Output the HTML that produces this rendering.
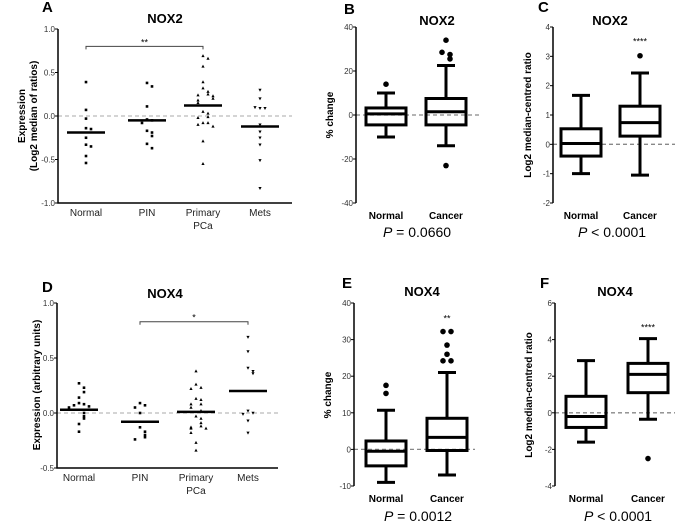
<!DOCTYPE html>
<html><head><meta charset="utf-8"><style>
html,body{margin:0;padding:0;background:#fff}
svg{display:block;font-family:"Liberation Sans",Arial,sans-serif}
</style></head><body>
<svg id="fig" width="675" height="522" viewBox="0 0 675 522" xmlns="http://www.w3.org/2000/svg"></svg>
<script>
// ---- Panel A data (NOX2 scatter)
const aCategories = ["Normal","PIN","Primary","Mets"];
const aNormal = [0.39,0.07,-0.03,-0.14,-0.15,-0.25,-0.33,-0.35,-0.46,-0.54];
const aPIN = [0.38,0.34,0.11,-0.04,-0.05,-0.08,-0.17,-0.19,-0.23,-0.32,-0.37];
const aPrimary = [0.69,0.66,0.57,0.39,0.32,0.28,0.25,0.24,0.23,0.2,0.18,0.15,0.05,0.03,-0.01,-0.02,-0.08,-0.08,-0.1,-0.12,-0.29,-0.55];
const aMets = [0.3,0.2,0.09,0.09,0.1,-0.1,-0.18,-0.25,-0.33,-0.51,-0.83];
const aMedians = [-0.19,-0.05,0.12,-0.12];
const aTicks = [1.0,0.5,0.0,-0.5,-1.0];
const aTickLabels = ["1.0","0.5","0.0","-0.5","-1.0"];
// ---- Panel D data (NOX4 scatter)
const dNormal = [0.27,0.23,0.19,0.14,0.09,0.08,0.07,0.06,0.05,0.03,0.0,-0.03,-0.05,-0.1,-0.17];
const dPIN = [0.09,0.07,0.05,0.0,-0.13,-0.17,-0.2,-0.22,-0.24];
const dPrimary = [0.38,0.26,0.23,0.22,0.13,0.12,0.08,0.08,0.05,0.02,-0.03,-0.05,-0.09,-0.12,-0.13,-0.14,-0.14,-0.18,-0.27,-0.34];
const dMets = [0.69,0.56,0.41,0.38,0.36,0.02,0.0,-0.01,-0.07,-0.18];
const dMedians = [0.03,-0.08,0.01,0.2];
const dTicks = [1.0,0.5,0.0,-0.5];
const dTickLabels = ["1.0","0.5","0.0","-0.5"];
// ---- Box panels: [whiskerLow, Q1, median, Q3, whiskerHigh]
const boxCategories = ["Normal","Cancer"];
const bNormal = [-10,-4.5,0.5,3.2,10];
const bCancer = [-14,-4.5,1.5,7.5,22.5];
const bNormalOutliers = [14];
const bCancerOutliers = [34,28.5,27.5,25.5,-23];
const bTicks = [40,20,0,-20,-40];
const cNormal = [-1,-0.4,0.03,0.53,1.67];
const cCancer = [-1.05,0.28,0.74,1.3,2.43];
const cNormalOutliers = [];
const cCancerOutliers = [3.02];
const cTicks = [4,3,2,1,0,-1,-2];
const eNormal = [-9,-4.5,-0.5,2.3,10.7];
const eCancer = [-7,-0.3,3.3,8.5,21];
const eNormalOutliers = [17.5,15.3];
const eCancerOutliers = [32.2,32.2,28.5,26,24.2,24.2];
const eTicks = [40,30,20,10,0,-10];
const fNormal = [-1.6,-0.8,-0.2,0.9,2.85];
const fCancer = [-0.35,1.1,2.1,2.7,4.05];
const fNormalOutliers = [];
const fCancerOutliers = [-2.5];
const fTicks = [6,4,2,0,-2,-4];

const NS="http://www.w3.org/2000/svg";
const svg=document.getElementById('fig');
function mk(tag,attrs,parent){const e=document.createElementNS(NS,tag);for(const k in attrs)e.setAttribute(k,attrs[k]);(parent||svg).appendChild(e);return e;}
function txt(s,x,y,size,opts,parent){const e=mk('text',Object.assign({x:x,y:y,'font-size':size,fill:'#000'},opts||{}),parent);e.textContent=s;return e;}

function scatterPanel(cfg){
  const g=mk('g',{});
  
  
  const y=v=>cfg.y0+(cfg.vmax-v)/(cfg.vmax-cfg.vmin)*(cfg.y1-cfg.y0);
  const t=txt(cfg.letter,cfg.lx,cfg.ly,15,{'font-weight':'bold'},g);
  
  
  const ti=txt(cfg.title,cfg.tx,cfg.ty,13,{'font-weight':'bold','text-anchor':'middle'},g);
  
  
  mk('line',{x1:cfg.ax,y1:y(0),x2:cfg.xend,y2:y(0),stroke:'#bbb','stroke-width':1.3,'stroke-dasharray':'4,3'},g);
  const ax=mk('path',{d:`M${cfg.ax},${cfg.y0}V${cfg.y1}H${cfg.xend}`,stroke:'#000','stroke-width':1.5,fill:'none'},g);
  
  
  cfg.ticks.forEach((v,i)=>{
    mk('line',{x1:cfg.ax-3,y1:y(v),x2:cfg.ax,y2:y(v),stroke:'#000','stroke-width':1},g);
    const tl=txt(cfg.tickLabels[i],cfg.ax-3,y(v)+3,8,{'text-anchor':'end',fill:'#333'},g);
    
    
  });
  cfg.labels.forEach((l,i)=>{
    const lt=txt(l[0],cfg.cx[i],cfg.laby,10,{'text-anchor':'middle',fill:'#222'},g);
    
    
    if(l[1]) txt(l[1],cfg.cx[i],cfg.laby+13,10,{'text-anchor':'middle',fill:'#222'},g);
  });
  const yt=mk('text',{transform:`translate(${cfg.ytx},${cfg.yty}) rotate(-90)`,'text-anchor':'middle','font-size':10,'font-weight':'bold'},g);
  
  
  cfg.ytitle.forEach((s,i)=>{const ts=mk('tspan',{x:0,y:i*12-(cfg.ytitle.length-1)*6+4},yt);ts.textContent=s;});
  cfg.series.forEach((arr,ci)=>{
    const placed=[];
    arr.forEach(v=>{
      const py=y(v);
      const n=placed.filter(p=>Math.abs(p-py)<5).length;
      placed.push(py);
      const off=(n%2?1:-1)*Math.ceil(n/2)*5;
      const px=cfg.cx[ci]+off;
      let m;
      if(ci===0||ci===1) m=mk('rect',{x:px-1.3,y:py-1.3,width:2.6,height:2.6,fill:'#000'},g);
      else if(ci===2) m=mk('path',{d:`M${px},${py-1.8}L${px+1.6},${py+1.2}L${px-1.6},${py+1.2}Z`,fill:'#000'},g);
      else m=mk('path',{d:`M${px},${py+1.8}L${px+1.6},${py-1.2}L${px-1.6},${py-1.2}Z`,fill:'#000'},g);
      
      
    });
    const md=mk('line',{x1:cfg.cx[ci]-19,x2:cfg.cx[ci]+19,y1:y(cfg.medians[ci]),y2:y(cfg.medians[ci]),stroke:'#000','stroke-width':2.5},g);
    
    
  });
  const b=cfg.bracket;
  const br=mk('path',{d:`M${cfg.cx[b[0]]},${y(b[2])+3}V${y(b[2])}H${cfg.cx[b[1]]}V${y(b[2])+3}`,stroke:'#444','stroke-width':1,fill:'none'},g);
  
  
  txt(b[3],(cfg.cx[b[0]]+cfg.cx[b[1]])/2,y(b[2])-1,9,{'text-anchor':'middle'},g);
}

function boxPanel(cfg){
  const g=mk('g',{});
  
  
  const vmax=cfg.ticks[0], vmin=cfg.ticks[cfg.ticks.length-1];
  const y=v=>cfg.y0+(vmax-v)/(vmax-vmin)*(cfg.y1-cfg.y0);
  const t=txt(cfg.letter,cfg.lx,cfg.ly,15,{'font-weight':'bold'},g);
  
  
  const ti=txt(cfg.title,cfg.tx,cfg.ty,13,{'font-weight':'bold','text-anchor':'middle'},g);
  
  
  mk('line',{x1:cfg.ax,y1:y(0),x2:cfg.xend,y2:y(0),stroke:'#888','stroke-width':1.3,'stroke-dasharray':'4,3'},g);
  const ax=mk('line',{x1:cfg.ax,y1:cfg.y0,x2:cfg.ax,y2:cfg.y1,stroke:'#000','stroke-width':1.5},g);
  
  
  cfg.ticks.forEach(v=>{
    mk('line',{x1:cfg.ax-3,y1:y(v),x2:cfg.ax,y2:y(v),stroke:'#000','stroke-width':1},g);
    const tl=txt(String(v),cfg.ax-3,y(v)+3,8,{'text-anchor':'end',fill:'#333'},g);
    
    
  });
  const yt=txt(cfg.ytitle,0,0,10,{'font-weight':'bold','text-anchor':'middle',transform:`translate(${cfg.ytx},${cfg.yty}) rotate(-90)`},g);
  
  
  [cfg.normal,cfg.cancer].forEach((s,i)=>{
    const cx=cfg.cx[i], hw=20;
    const bg=mk('g',{stroke:'#000','stroke-width':3,fill:'none'},g);
    
    
    mk('line',{x1:cx,x2:cx,y1:y(s[0]),y2:y(s[1])},bg);
    mk('line',{x1:cx,x2:cx,y1:y(s[3]),y2:y(s[4])},bg);
    mk('line',{x1:cx-9,x2:cx+9,y1:y(s[0]),y2:y(s[0])},bg);
    mk('line',{x1:cx-9,x2:cx+9,y1:y(s[4]),y2:y(s[4])},bg);
    mk('rect',{x:cx-hw,y:y(s[3]),width:2*hw,height:y(s[1])-y(s[3])},bg);
    mk('line',{x1:cx-hw,x2:cx+hw,y1:y(s[2]),y2:y(s[2])},bg);
    const outs=i?cfg.cancerOut:cfg.normalOut;
    outs.forEach((v,k)=>{
      const py=y(v);
      const close=outs.map(y).filter(p=>Math.abs(p-py)<5);
      let ox=0;
      if(close.length>1){const idx=outs.slice(0,k).map(y).filter(p=>Math.abs(p-py)<5).length;ox=idx%2?4:-4;}
      const o=mk('circle',{cx:cx+ox,cy:py,r:2.8,fill:'#000'},g);
      
      
    });
    const lt=txt(boxCategories[i],cx,cfg.laby,10,{'font-weight':'bold','text-anchor':'middle'},g);
    
    
  });
  if(cfg.stars){const st=txt(cfg.stars[0],cfg.cx[1],y(cfg.stars[1]),9,{'text-anchor':'middle'},g);}
  const p=mk('text',{x:cfg.px,y:cfg.py,'font-size':14,'text-anchor':'middle'},g);
  
  
  const pi=mk('tspan',{'font-style':'italic'},p);pi.textContent='P';
  const pr=mk('tspan',{},p);pr.textContent=cfg.ptext;
}

scatterPanel({name:'panel-a',letter:'A',lx:42,ly:12,title:'NOX2',tx:165,ty:23,ax:58,xend:292,y0:29,y1:203,vmax:1,vmin:-1,
  ticks:aTicks,tickLabels:aTickLabels,cx:[86,147,203,260],laby:216,
  labels:[["Normal"],["PIN"],["Primary","PCa"],["Mets"]],ytx:27,yty:116,ytitle:["Expression","(Log2 median of ratios)"],
  series:[aNormal,aPIN,aPrimary,aMets],medians:aMedians,bracket:[0,2,0.8,'**']});
scatterPanel({name:'panel-d',letter:'D',lx:42,ly:292,title:'NOX4',tx:165,ty:298,ax:57,xend:278,y0:303,y1:468,vmax:1,vmin:-0.5,
  ticks:dTicks,tickLabels:dTickLabels,cx:[79,140,196,248],laby:481,
  labels:[["Normal"],["PIN"],["Primary","PCa"],["Mets"]],ytx:36,yty:385,ytitle:["Expression (arbitrary units)"],
  series:[dNormal,dPIN,dPrimary,dMets],medians:dMedians,bracket:[1,3,0.83,'*']});
boxPanel({name:'panel-b',letter:'B',lx:344,ly:14,title:'NOX2',tx:437,ty:25,ax:356,xend:482,y0:27,y1:203,ticks:bTicks,
  ytx:333,yty:115,ytitle:'%  change',cx:[386,446],laby:219,normal:bNormal,cancer:bCancer,normalOut:bNormalOutliers,cancerOut:bCancerOutliers,
  px:417,py:237,ptext:' = 0.0660'});
boxPanel({name:'panel-c',letter:'C',lx:538,ly:12,title:'NOX2',tx:610,ty:25,ax:553,xend:675,y0:27,y1:203,ticks:cTicks,
  ytx:531,yty:115,ytitle:'Log2 median-centred ratio',cx:[581,640],laby:219,normal:cNormal,cancer:cCancer,normalOut:cNormalOutliers,cancerOut:cCancerOutliers,
  stars:['****',3.4],px:612,py:237,ptext:' < 0.0001'});
boxPanel({name:'panel-e',letter:'E',lx:342,ly:288,title:'NOX4',tx:422,ty:296,ax:354,xend:475,y0:303,y1:486,ticks:eTicks,
  ytx:331,yty:395,ytitle:'%  change',cx:[386,447],laby:502,normal:eNormal,cancer:eCancer,normalOut:eNormalOutliers,cancerOut:eCancerOutliers,
  stars:['**',35],px:418,py:521,ptext:' = 0.0012'});
boxPanel({name:'panel-f',letter:'F',lx:540,ly:288,title:'NOX4',tx:615,ty:296,ax:555,xend:675,y0:303,y1:486,ticks:fTicks,
  ytx:532,yty:395,ytitle:'Log2 median-centred ratio',cx:[586,648],laby:502,normal:fNormal,cancer:fCancer,normalOut:fNormalOutliers,cancerOut:fCancerOutliers,
  stars:['****',4.5],px:618,py:521,ptext:' < 0.0001'});
</script>
</body></html>
